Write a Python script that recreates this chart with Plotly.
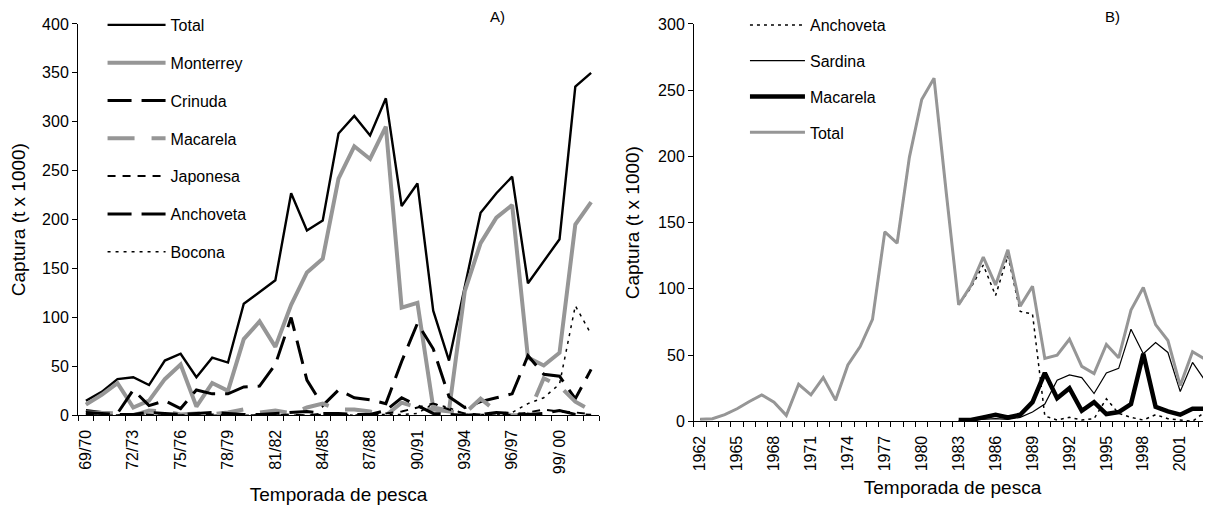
import plotly.graph_objects as go

# A) capturas por temporada (t x 1000)
temporadas = ["69/70", "70/71", "71/72", "72/73", "73/74", "74/75", "75/76", "76/77",
              "77/78", "78/79", "79/80", "80/81", "81/82", "82/83", "83/84", "84/85",
              "85/86", "86/87", "87/88", "88/89", "89/90", "90/91", "91/92", "92/93",
              "93/94", "94/95", "95/96", "96/97", "97/98", "98/99", "99/ 00", "00/01", "01/02"]
inicio = list(range(1969, 2002))

a_total = [15, 24, 37, 39, 31, 56, 63, 39, 59, 54, 114, 126, 138, 227, 189, 199, 288,
           306, 286, 324, 214, 237, 107, 56, 130, 207, 227, 244, 135, 158, 180, 336, 350]
a_monterrey = [11, 21, 33, 8, 15, 37, 52, 9, 33, 25, 78, 96, 70, 113, 146, 160, 242,
               275, 262, 295, 110, 115, 8, 5, 127, 176, 202, 215, 59, 51, 64, 195, 218]
a_crinuda = [5, 3, 2, 26, 10, 15, 7, 26, 22, 22, 29, 30, 52, 100, 36, 10, 26,
             18, 16, 12, 55, 94, 68, 19, 8, 14, 18, 22, 61, 42, 40, 17, 47]
a_macarela = [3, 3, 2, 0, 5, 4, 1, 2, 1, 3, 6, 3, 5, 2, 8, 12, 6,
              6, 4, 0, 13, 8, 6, 5, 2, 17, 4, 0, 0, 38, 30, 14, 5]
a_japonesa = [1, 0, 0, 0, 1, 0, 0, 0, 1, 0, 0, 0, 0, 1, 0, 2, 1,
              0, 0, 2, 4, 8, 12, 6, 2, 1, 2, 0, 3, 6, 4, 3, 1]
a_anchoveta = [3, 2, 1, 1, 3, 2, 1, 2, 3, 2, 1, 1, 2, 3, 4, 2, 2,
               1, 1, 5, 18, 10, 2, 1, 0, 1, 3, 2, 1, 2, 5, 1, 0]
a_bocona = [0, 0, 0, 0, 0, 0, 0, 0, 0, 0, 0, 0, 0, 0, 0, 1, 1,
            0, 1, 1, 1, 2, 12, 8, 1, 1, 1, 3, 12, 18, 32, 112, 83]

# B) capturas anuales (t x 1000)
anios = list(range(1962, 2004))
b_anchoveta = [1.5, 2, 5, 9.5, 15, 20, 14.5, 4.5, 28, 20, 33, 16, 42.5, 56.5, 77, 143,
               134.5, 199.5, 243, 259, 172, 88, 101, 118, 95, 125, 83, 81, 4, 1, 3, 1,
               2, 17, 6, 3, 1, 5, 2, 1, 0, 7]
b_sardina = [None] * 21 + [0.5, 1, 1.5, 2, 1.5, 3, 7, 13, 31, 35, 33, 21, 36.5, 40,
                           69.5, 51, 59.5, 52, 22.5, 44.5, 31]
b_macarela = [None] * 21 + [1, 1, 3, 5, 3, 5, 14.5, 36.5, 17.5, 25, 8, 14.5, 5.5, 7,
                            13, 51, 11, 7.5, 5, 9.5, 9.5]
b_total = [1.5, 2, 5, 9.5, 15, 20, 14.5, 4.5, 28, 20, 33, 16, 42.5, 56.5, 77, 143,
           134.5, 199.5, 243, 259, 172, 88, 102.5, 124, 103, 129.5, 87, 102, 47.5, 50,
           62, 41.5, 36, 58, 48, 84, 101, 73, 61, 27, 52.5, 47]

gris = "#969696"
fig = go.Figure()

serie_a = [
    ("Total", a_total, "black", 2.4, "solid"),
    ("Monterrey", a_monterrey, gris, 4, "solid"),
    ("Crinuda", a_crinuda, "black", 3, "24px,10px"),
    ("Macarela", a_macarela, gris, 4, "27px,17px"),
    ("Japonesa", a_japonesa, "black", 2, "8px,7px"),
    ("Anchoveta", a_anchoveta, "black", 3, "24px,10px"),
    ("Bocona", a_bocona, "black", 1.5, "3px,5px"),
]
for nombre, y, color, ancho, dash in serie_a:
    fig.add_trace(go.Scatter(x=inicio, y=y, mode="lines", name=nombre,
                             line=dict(color=color, width=ancho, dash=dash),
                             xaxis="x", yaxis="y", legend="legend",
                             legendgroup="a" + nombre))

serie_b = [
    ("Anchoveta", b_anchoveta, "black", 1.5, "3px,4px"),
    ("Sardina", b_sardina, "black", 1.2, "solid"),
    ("Macarela", b_macarela, "black", 4.5, "solid"),
    ("Total", b_total, gris, 3, "solid"),
]
for nombre, y, color, ancho, dash in serie_b:
    fig.add_trace(go.Scatter(x=anios, y=y, mode="lines", name=nombre,
                             line=dict(color=color, width=ancho, dash=dash),
                             xaxis="x2", yaxis="y2", legend="legend2",
                             legendgroup="b" + nombre))

eje = dict(showline=True, linecolor="black", linewidth=1, showgrid=False,
           zeroline=False, automargin=False, tickfont=dict(size=16))
# category labels sit below the boundary ticks: invisible major ticks push them down
eje_x = dict(eje, tickangle=-90, ticks="outside", ticklen=7,
             tickcolor="rgba(0,0,0,0)")

# the page body adds an 8px margin, so the figure is 16px smaller than the window
fig.update_layout(
    width=1203, height=498,
    margin=dict(l=0, r=0, t=0, b=0),
    paper_bgcolor="white", plot_bgcolor="white",
    font=dict(family="Liberation Sans, Arial, sans-serif", size=16, color="black"),
    xaxis=dict(eje_x, domain=[0.05819, 0.49127], range=[1968.5, 2001.5], anchor="y",
               tickvals=inicio[::3], ticktext=temporadas[::3],
               minor=dict(ticks="outside", ticklen=5, tick0=1968.5, dtick=1,
                          tickcolor="black"),
               title=dict(text="Temporada de pesca", standoff=14)),
    yaxis=dict(eje, domain=[0.18273, 0.97189], range=[0, 400], dtick=50, anchor="x",
               ticks="outside", ticklen=5, tickcolor="black",
               title=dict(text="Captura (t x 1000)", standoff=13)),
    xaxis2=dict(eje_x, domain=[0.57024, 1.0], range=[1961.5, 2003.5], anchor="y2",
                tickvals=anios[::3], ticktext=[str(a) for a in anios[::3]],
                minor=dict(ticks="outside", ticklen=5, tick0=1961.5, dtick=1,
                           tickcolor="black"),
                title=dict(text="Temporada de pesca", standoff=10)),
    yaxis2=dict(eje, domain=[0.17068, 0.97189], range=[0, 300], dtick=50, anchor="x2",
                ticks="outside", ticklen=5, tickcolor="black",
                title=dict(text="Captura (t x 1000)", standoff=13)),
    legend=dict(x=0.0786, y=1.004, xanchor="left", yanchor="top", maxheight=480,
                bgcolor="rgba(0,0,0,0)", itemwidth=58, tracegroupgap=14,
                font=dict(size=16)),
    legend2=dict(x=0.6126, y=1.004, xanchor="left", yanchor="top", maxheight=480,
                 bgcolor="rgba(0,0,0,0)", itemwidth=55, tracegroupgap=12,
                 font=dict(size=16)),
    annotations=[
        dict(text="A)", x=0.4065, y=0.986, xref="paper", yref="paper",
             xanchor="center", yanchor="middle", showarrow=False, font=dict(size=15)),
        dict(text="B)", x=0.9185, y=0.986, xref="paper", yref="paper",
             xanchor="center", yanchor="middle", showarrow=False, font=dict(size=15)),
    ],
)

fig.write_html("out.html")
